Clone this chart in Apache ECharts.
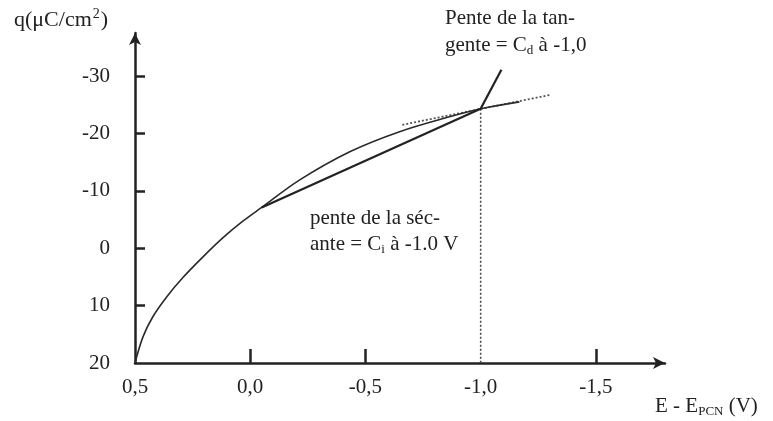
<!DOCTYPE html>
<html>
<head>
<meta charset="utf-8">
<script src="https://cdn.jsdelivr.net/npm/echarts@6/dist/echarts.min.js"></script>
<style>
  html, body { margin: 0; padding: 0; background: #fff; }
  #chart { width: 773px; height: 421px; }
</style>
</head>
<body>
<div id="chart"></div>
<script>
// Charge surface density q versus potential E - E_PCN
const curveE = [0.5, 0.465, 0.422, 0.361, 0.292, 0.205, 0.119, 0.032, -0.05, -0.215, -0.432, -0.648, -0.865, -1.0, -1.168];
const curveQ = [20, 15.4, 11.9, 8.4, 5.1, 1.5, -1.8, -4.7, -7.1, -11.9, -16.8, -20.3, -22.9, -24.3, -25.5];

// secant from the curve to the point at -1.0 V
const secantE = [-0.05, -1.0];
const secantQ = [-7.1, -24.3];
// steep segment leaving the point at -1.0 V
const steepE = [-1.0, -1.09];
const steepQ = [-24.3, -31.1];
// dotted tangent through the point at -1.0 V
const tangentE = [-0.66, -1.30];
const tangentQ = [-21.5, -26.7];
// dotted drop line to the potential axis
const dropE = [-1.0, -1.0];
const dropQ = [-24.3, 20];

const xTickLabels = [0.5, 0, -0.5, -1.0, -1.5];
const xTickMarks = [0, -0.5, -1.5];
const yTickLabels = [-30, -20, -10, 0, 10, 20];
const yTickMarks = [-30, -20, -10, 0, 10];

const zip = (xs, ys) => xs.map((x, i) => [x, ys[i]]);

const SERIF = "'Liberation Serif', 'Times New Roman', serif";
const INK = '#222';
const FS = 21;

const chart = echarts.init(document.getElementById('chart'), null, { renderer: 'canvas' });

function lineSeries(data, opts) {
  return Object.assign({
    type: 'line',
    data: data,
    showSymbol: false,
    symbol: 'none',
    animation: false,
    silent: true,
    lineStyle: { color: '#333', width: 1.6 }
  }, opts);
}

// rich styles: body text plus a lowered subscript
const subRich = {
  a: { fontFamily: SERIF, fontSize: FS, lineHeight: 24, fill: INK },
  s: { fontFamily: SERIF, fontSize: 13, lineHeight: 24, fill: INK, verticalAlign: 'bottom', padding: [8, 0, 0, 0] }
};

chart.setOption({
  animation: false,
  backgroundColor: '#fff',
  grid: { left: 135, right: 108, top: 33, bottom: 58, outerBoundsMode: 'none' },
  xAxis: {
    type: 'value',
    inverse: true,
    min: -1.8,
    max: 0.5,
    splitLine: { show: false },
    axisLine: {
      onZero: false,
      symbol: ['none', 'arrow'],
      symbolSize: [9, 12],
      lineStyle: { color: INK, width: 2.5 }
    },
    axisTick: {
      inside: true, length: 14, customValues: xTickMarks,
      lineStyle: { color: INK, width: 2.5 }
    },
    axisLabel: {
      customValues: xTickLabels,
      margin: 14,
      color: INK,
      fontFamily: SERIF,
      fontSize: FS,
      formatter: v => v.toFixed(1).replace('.', ',')
    }
  },
  yAxis: {
    type: 'value',
    inverse: true,
    min: -37.5,
    max: 20,
    splitLine: { show: false },
    axisLine: {
      onZero: false,
      symbol: ['none', 'arrow'],
      symbolSize: [9, 12],
      lineStyle: { color: INK, width: 2.5 }
    },
    axisTick: {
      inside: true, length: 10, customValues: yTickMarks,
      lineStyle: { color: INK, width: 2.5 }
    },
    axisLabel: {
      customValues: yTickLabels,
      margin: 25,
      color: INK,
      fontFamily: SERIF,
      fontSize: FS,
      formatter: v => String(v)
    }
  },
  series: [
    lineSeries(zip(dropE, dropQ), { lineStyle: { color: '#444', width: 1.5, type: [2, 2] } }),
    lineSeries(zip(tangentE, tangentQ), { lineStyle: { color: '#555', width: 1.8, type: [2, 2] } }),
    lineSeries(zip(curveE, curveQ), { smooth: 0.35, lineStyle: { color: '#2a2a2a', width: 1.6 } }),
    lineSeries(zip(secantE, secantQ), { lineStyle: { color: '#222', width: 2.2 } }),
    lineSeries(zip(steepE, steepQ), { lineStyle: { color: '#222', width: 2.2 } })
  ],
  graphic: [
    {
      type: 'text', left: 14, top: 7, silent: true,
      style: {
        text: '{a|q(μC/cm}{p|2}{a|)}',
        fill: INK,
        rich: {
          a: { fontFamily: SERIF, fontSize: FS + 1, lineHeight: 26, fill: INK },
          p: { fontFamily: SERIF, fontSize: 14, lineHeight: 26, fill: INK, verticalAlign: 'top', padding: [0, 1, 8, 1] }
        }
      }
    },
    {
      type: 'text', left: 445, top: 8, silent: true,
      style: { text: 'Pente de la tan-', font: FS + 'px ' + SERIF, fill: INK }
    },
    {
      type: 'text', left: 445, top: 35, silent: true,
      style: { text: '{a|gente = C}{s|d}{a| à -1,0}', fill: INK, rich: subRich }
    },
    {
      type: 'text', left: 310, top: 208, silent: true,
      style: { text: 'pente de la séc-', font: FS + 'px ' + SERIF, fill: INK }
    },
    {
      type: 'text', left: 310, top: 234, silent: true,
      style: { text: '{a|ante = C}{s|i}{a| à -1.0 V}', fill: INK, rich: subRich }
    },
    {
      type: 'text', left: 655, top: 396, silent: true,
      style: { text: '{a|E - E}{s|PCN}{a| (V)}', fill: INK, rich: subRich }
    }
  ]
});
</script>
</body>
</html>
